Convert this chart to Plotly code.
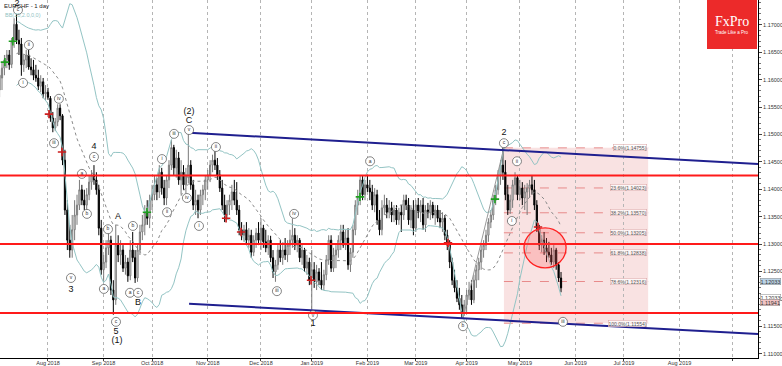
import pandas as pd
import plotly.graph_objects as go

# ---------------- data ----------------
start_date = "2018-07-04"   # first daily bar (business-day index 0)

opens = [
    1.1581, 1.1603, 1.1621, 1.1636, 1.1645, 1.1628, 1.1669, 1.1701, 1.1672, 1.1665,
    1.1627, 1.1636, 1.1645, 1.1623, 1.1618, 1.1608, 1.1603, 1.1588, 1.1596, 1.1574,
    1.1577, 1.1566, 1.1530, 1.1512, 1.1523, 1.1548, 1.1534, 1.1453, 1.1362, 1.1307,
    1.1289, 1.1326, 1.1353, 1.1371, 1.1399, 1.1380, 1.1371, 1.1390, 1.1413, 1.1426,
    1.1417, 1.1399, 1.1329, 1.1253, 1.1267, 1.1293, 1.1307, 1.1216, 1.1198, 1.1298,
    1.1280, 1.1289, 1.1256, 1.1267, 1.1242, 1.1289, 1.1275, 1.1238, 1.1289, 1.1322,
    1.1335, 1.1358, 1.1347, 1.1380, 1.1390, 1.1408, 1.1395, 1.1431, 1.1402, 1.1384,
    1.1417, 1.1444, 1.1476, 1.1439, 1.1457, 1.1417, 1.1431, 1.1408, 1.1421, 1.1444,
    1.1408, 1.1371, 1.1380, 1.1362, 1.1390, 1.1399, 1.1417, 1.1426, 1.1444, 1.1453,
    1.1444, 1.1426, 1.1402, 1.1371, 1.1353, 1.1371, 1.1380, 1.1395, 1.1380, 1.1362,
    1.1326, 1.1316, 1.1326, 1.1307, 1.1316, 1.1285, 1.1307, 1.1320, 1.1307, 1.1329,
    1.1304, 1.1293, 1.1307, 1.1275, 1.1249, 1.1262, 1.1289, 1.1275, 1.1289, 1.1280,
    1.1298, 1.1307, 1.1316, 1.1298, 1.1307, 1.1275, 1.1289, 1.1256, 1.1267, 1.1238,
    1.1253, 1.1231, 1.1249, 1.1234, 1.1225, 1.1244, 1.1271, 1.1307, 1.1256, 1.1280,
    1.1289, 1.1307, 1.1322, 1.1298, 1.1311, 1.1262, 1.1285, 1.1326, 1.1371, 1.1384,
    1.1417, 1.1390, 1.1408, 1.1402, 1.1395, 1.1371, 1.1390, 1.1344, 1.1326, 1.1366,
    1.1371, 1.1358, 1.1366, 1.1353, 1.1362, 1.1344, 1.1358, 1.1353, 1.1380, 1.1371,
    1.1344, 1.1362, 1.1329, 1.1371, 1.1358, 1.1371, 1.1335, 1.1362, 1.1357, 1.1371,
    1.1353, 1.1362, 1.1347, 1.1340, 1.1347, 1.1316, 1.1298, 1.1267, 1.1234, 1.1220,
    1.1201, 1.1189, 1.1176, 1.1189, 1.1207, 1.1216, 1.1198, 1.1234, 1.1253, 1.1267,
    1.1289, 1.1298, 1.1316, 1.1340, 1.1353, 1.1380, 1.1399, 1.1426, 1.1444, 1.1431,
    1.1390, 1.1362, 1.1380, 1.1408, 1.1421, 1.1390, 1.1402, 1.1384, 1.1395, 1.1402,
    1.1408, 1.1399, 1.1371, 1.1329, 1.1298, 1.1307, 1.1293, 1.1285, 1.1280, 1.1267,
    1.1289, 1.1262, 1.1238,
]
highs = [
    1.1618, 1.1632, 1.1645, 1.1654, 1.1654, 1.1676, 1.1712, 1.1722, 1.1691, 1.1676,
    1.1645, 1.1654, 1.1654, 1.1639, 1.1636, 1.1627, 1.1618, 1.1608, 1.1603, 1.1590,
    1.1585, 1.1570, 1.1541, 1.1530, 1.1555, 1.1555, 1.1537, 1.1472, 1.1380, 1.1335,
    1.1353, 1.1380, 1.1390, 1.1417, 1.1408, 1.1399, 1.1402, 1.1426, 1.1435, 1.1444,
    1.1431, 1.1408, 1.1344, 1.1280, 1.1307, 1.1322, 1.1315, 1.1234, 1.1335, 1.1316,
    1.1307, 1.1298, 1.1280, 1.1275, 1.1307, 1.1322, 1.1289, 1.1298, 1.1335, 1.1353,
    1.1371, 1.1380, 1.1390, 1.1408, 1.1426, 1.1421, 1.1444, 1.1439, 1.1417, 1.1426,
    1.1453, 1.1490, 1.1481, 1.1472, 1.1468, 1.1453, 1.1444, 1.1439, 1.1503, 1.1453,
    1.1417, 1.1399, 1.1390, 1.1399, 1.1408, 1.1426, 1.1435, 1.1453, 1.1463, 1.1472,
    1.1457, 1.1435, 1.1417, 1.1390, 1.1380, 1.1390, 1.1408, 1.1417, 1.1413, 1.1371,
    1.1340, 1.1335, 1.1340, 1.1329, 1.1326, 1.1316, 1.1329, 1.1340, 1.1347, 1.1335,
    1.1326, 1.1316, 1.1315, 1.1289, 1.1271, 1.1298, 1.1307, 1.1298, 1.1311, 1.1307,
    1.1326, 1.1347, 1.1329, 1.1316, 1.1311, 1.1298, 1.1293, 1.1280, 1.1275, 1.1289,
    1.1267, 1.1262, 1.1256, 1.1267, 1.1253, 1.1280, 1.1316, 1.1316, 1.1293, 1.1298,
    1.1316, 1.1335, 1.1335, 1.1326, 1.1329, 1.1293, 1.1335, 1.1380, 1.1399, 1.1426,
    1.1424, 1.1417, 1.1426, 1.1417, 1.1408, 1.1402, 1.1399, 1.1362, 1.1380, 1.1390,
    1.1384, 1.1380, 1.1377, 1.1371, 1.1371, 1.1366, 1.1371, 1.1390, 1.1390, 1.1384,
    1.1371, 1.1380, 1.1380, 1.1384, 1.1380, 1.1384, 1.1371, 1.1375, 1.1380, 1.1377,
    1.1371, 1.1371, 1.1362, 1.1358, 1.1353, 1.1326, 1.1307, 1.1275, 1.1253, 1.1234,
    1.1220, 1.1207, 1.1198, 1.1216, 1.1231, 1.1234, 1.1244, 1.1262, 1.1275, 1.1298,
    1.1307, 1.1326, 1.1347, 1.1362, 1.1390, 1.1408, 1.1435, 1.1453, 1.1476, 1.1453,
    1.1408, 1.1390, 1.1417, 1.1431, 1.1426, 1.1417, 1.1413, 1.1408, 1.1411, 1.1417,
    1.1426, 1.1417, 1.1380, 1.1335, 1.1316, 1.1322, 1.1311, 1.1304, 1.1293, 1.1298,
    1.1293, 1.1267, 1.1249,
]
lows = [
    1.1568, 1.1581, 1.1608, 1.1621, 1.1618, 1.1621, 1.1658, 1.1665, 1.1645, 1.1607,
    1.1614, 1.1621, 1.1618, 1.1608, 1.1599, 1.1596, 1.1581, 1.1577, 1.1566, 1.1563,
    1.1563, 1.1523, 1.1504, 1.1506, 1.1515, 1.1526, 1.1444, 1.1353, 1.1289, 1.1275,
    1.1275, 1.1307, 1.1335, 1.1362, 1.1371, 1.1362, 1.1362, 1.1380, 1.1399, 1.1408,
    1.1390, 1.1316, 1.1244, 1.1231, 1.1256, 1.1280, 1.1207, 1.1171, 1.1189, 1.1267,
    1.1262, 1.1249, 1.1244, 1.1231, 1.1234, 1.1267, 1.1229, 1.1231, 1.1280, 1.1307,
    1.1316, 1.1335, 1.1329, 1.1362, 1.1380, 1.1380, 1.1384, 1.1390, 1.1371, 1.1371,
    1.1402, 1.1435, 1.1426, 1.1421, 1.1408, 1.1390, 1.1399, 1.1390, 1.1411, 1.1399,
    1.1362, 1.1353, 1.1347, 1.1353, 1.1371, 1.1380, 1.1399, 1.1413, 1.1431, 1.1435,
    1.1417, 1.1395, 1.1362, 1.1340, 1.1344, 1.1353, 1.1362, 1.1371, 1.1353, 1.1316,
    1.1307, 1.1304, 1.1298, 1.1293, 1.1275, 1.1278, 1.1293, 1.1298, 1.1289, 1.1293,
    1.1285, 1.1280, 1.1267, 1.1238, 1.1231, 1.1253, 1.1267, 1.1262, 1.1271, 1.1267,
    1.1280, 1.1293, 1.1289, 1.1285, 1.1267, 1.1262, 1.1249, 1.1244, 1.1225, 1.1180,
    1.1220, 1.1216, 1.1225, 1.1216, 1.1216, 1.1234, 1.1262, 1.1249, 1.1249, 1.1256,
    1.1275, 1.1289, 1.1293, 1.1289, 1.1253, 1.1249, 1.1275, 1.1316, 1.1353, 1.1371,
    1.1380, 1.1380, 1.1395, 1.1380, 1.1362, 1.1358, 1.1335, 1.1316, 1.1316, 1.1353,
    1.1347, 1.1347, 1.1340, 1.1340, 1.1335, 1.1335, 1.1322, 1.1344, 1.1362, 1.1335,
    1.1329, 1.1316, 1.1322, 1.1347, 1.1340, 1.1326, 1.1322, 1.1347, 1.1344, 1.1347,
    1.1335, 1.1340, 1.1329, 1.1322, 1.1307, 1.1289, 1.1256, 1.1225, 1.1212, 1.1194,
    1.1180, 1.1165, 1.1169, 1.1176, 1.1198, 1.1189, 1.1192, 1.1220, 1.1234, 1.1253,
    1.1275, 1.1289, 1.1304, 1.1329, 1.1344, 1.1371, 1.1390, 1.1408, 1.1417, 1.1380,
    1.1353, 1.1355, 1.1366, 1.1390, 1.1380, 1.1380, 1.1371, 1.1362, 1.1353, 1.1384,
    1.1390, 1.1362, 1.1322, 1.1289, 1.1285, 1.1280, 1.1267, 1.1275, 1.1262, 1.1256,
    1.1253, 1.1231, 1.1212,
]
closes = [
    1.1608, 1.1621, 1.1636, 1.1645, 1.1627, 1.1669, 1.1701, 1.1672, 1.1665, 1.1627,
    1.1636, 1.1645, 1.1623, 1.1618, 1.1608, 1.1603, 1.1588, 1.1596, 1.1574, 1.1577,
    1.1568, 1.1530, 1.1512, 1.1523, 1.1548, 1.1534, 1.1453, 1.1362, 1.1307, 1.1289,
    1.1326, 1.1353, 1.1371, 1.1399, 1.1380, 1.1371, 1.1390, 1.1413, 1.1426, 1.1417,
    1.1399, 1.1329, 1.1253, 1.1267, 1.1293, 1.1307, 1.1216, 1.1198, 1.1298, 1.1280,
    1.1289, 1.1256, 1.1267, 1.1242, 1.1289, 1.1275, 1.1238, 1.1289, 1.1322, 1.1335,
    1.1358, 1.1347, 1.1380, 1.1390, 1.1408, 1.1395, 1.1431, 1.1402, 1.1384, 1.1417,
    1.1444, 1.1476, 1.1439, 1.1457, 1.1417, 1.1431, 1.1408, 1.1426, 1.1444, 1.1408,
    1.1371, 1.1380, 1.1362, 1.1390, 1.1399, 1.1417, 1.1426, 1.1444, 1.1453, 1.1444,
    1.1426, 1.1402, 1.1371, 1.1353, 1.1371, 1.1380, 1.1395, 1.1380, 1.1362, 1.1326,
    1.1316, 1.1326, 1.1307, 1.1316, 1.1285, 1.1307, 1.1320, 1.1307, 1.1329, 1.1304,
    1.1293, 1.1307, 1.1275, 1.1249, 1.1262, 1.1289, 1.1275, 1.1289, 1.1280, 1.1298,
    1.1307, 1.1316, 1.1298, 1.1307, 1.1275, 1.1289, 1.1256, 1.1267, 1.1234, 1.1253,
    1.1231, 1.1249, 1.1234, 1.1225, 1.1244, 1.1271, 1.1307, 1.1256, 1.1280, 1.1289,
    1.1307, 1.1322, 1.1298, 1.1311, 1.1262, 1.1285, 1.1326, 1.1371, 1.1384, 1.1417,
    1.1390, 1.1408, 1.1402, 1.1395, 1.1371, 1.1390, 1.1344, 1.1326, 1.1366, 1.1371,
    1.1358, 1.1366, 1.1353, 1.1362, 1.1344, 1.1358, 1.1353, 1.1380, 1.1371, 1.1344,
    1.1362, 1.1329, 1.1371, 1.1358, 1.1371, 1.1335, 1.1362, 1.1357, 1.1371, 1.1353,
    1.1362, 1.1347, 1.1340, 1.1347, 1.1316, 1.1298, 1.1267, 1.1234, 1.1220, 1.1201,
    1.1189, 1.1176, 1.1189, 1.1207, 1.1216, 1.1198, 1.1234, 1.1253, 1.1267, 1.1289,
    1.1298, 1.1316, 1.1340, 1.1353, 1.1380, 1.1399, 1.1426, 1.1444, 1.1431, 1.1390,
    1.1362, 1.1380, 1.1408, 1.1421, 1.1390, 1.1402, 1.1384, 1.1395, 1.1402, 1.1408,
    1.1399, 1.1371, 1.1329, 1.1298, 1.1307, 1.1293, 1.1285, 1.1280, 1.1267, 1.1289,
    1.1262, 1.1238, 1.1220,
]

month_labels = ["Aug 2018", "Sep 2018", "Oct 2018", "Nov 2018", "Dec 2018", "Jan 2019",
                "Feb 2019", "Mar 2019", "Apr 2019", "May 2019", "Jun 2019", "Jul 2019",
                "Aug 2019", ""]
month_starts = ["2018-08-01", "2018-09-01", "2018-10-01", "2018-11-01", "2018-12-01",
                "2019-01-01", "2019-02-01", "2019-03-01", "2019-04-01", "2019-05-01",
                "2019-06-01", "2019-07-01", "2019-08-01", "2019-09-01"]

y_ticks = [1.110, 1.115, 1.120, 1.125, 1.130, 1.135, 1.140, 1.145, 1.150, 1.155,
           1.160, 1.165, 1.170]

sr_levels = [1.1425, 1.1300, 1.1174]

channel_x = [78.3, 313.4]
channel_upper = [1.1503, 1.1446]
channel_lower = [1.1191, 1.1136]

zigzag_x = [191.5, 208.4]
zigzag_y = [1.1165, 1.1476]

fib_pct = ["0.0%", "23.6%", "38.2%", "50.0%", "61.8%", "78.6%", "100.0%"]
fib_prices = [1.14755, 1.14023, 1.13570, 1.13205, 1.12838, 1.12316, 1.11554]
fib_x = [208.4, 268.0]

circle_center = [225.4, 1.1293]

circ_text = ["c", "ii", "i", "iv", "iii", "c", "a", "b", "v", "b", "a", "c", "b", "a", "c",
             "i", "ii", "iii", "v", "iv", "i", "ii", "iii", "iv", "v", "a", "b", "c", "ii", "i", "iii"]
circ_x = [7.6, 12.1, 9.7, 24.5, 22.5, 39.0, 34.0, 36.1, 29.5, 44.8, 43.1, 48.1, 55.1, 53.9, 57.2,
          67.1, 69.2, 72.1, 78.3, 77.4, 82.4, 89.4, 114.6, 121.7, 129.5, 153.1, 191.5, 208.4,
          213.8, 211.7, 232.8]
circ_y = [1.1727, 1.1663, 1.1594, 1.1565, 1.1484, 1.1459, 1.1428, 1.1355, 1.1238, 1.1327,
          1.1218, 1.1158, 1.1333, 1.1211, 1.1211, 1.1455, 1.1358, 1.1501, 1.1508, 1.1384,
          1.1333, 1.1477, 1.1214, 1.1355, 1.1170, 1.1451, 1.1150, 1.1484, 1.1451, 1.1342, 1.1158]

big_text = ["2", "4", "3", "5", "(1)", "A", "B", "(2)", "C", "1", "2"]
big_x = [7.2, 39.0, 29.5, 48.1, 48.5, 48.9, 57.2, 78.3, 78.3, 129.5, 208.4]
big_y = [1.1738, 1.1477, 1.1216, 1.1139, 1.1123, 1.1349, 1.1192, 1.1541, 1.1525, 1.1154, 1.1503]

green_x = [2.2, 5.5, 60.9, 148.9, 204.7]
green_y = [1.1632, 1.1670, 1.1358, 1.1386, 1.1382]
red_x = [20.4, 25.8, 93.6, 99.8, 128.7, 185.3, 222.5]
red_y = [1.1537, 1.1468, 1.1347, 1.1322, 1.1234, 1.1302, 1.1331]

axis_tag_text = ["1.12033", "1.12033", "1.11941"]
axis_tag_price = [1.1231, 1.12033, 1.1194]
axis_tag_bg = ["#bcd4e6", "#ffffff", "#f2c4c4"]

# ---------------- derived ----------------
bars = list(range(len(closes)))
bdays = pd.bdate_range(start_date, periods=340)
tick_pos = [int(bdays.searchsorted(pd.Timestamp(m))) for m in month_starts]

cs = pd.Series(closes)
bb_mid = cs.rolling(20, min_periods=8).mean()
bb_sd = cs.rolling(20, min_periods=8).std(ddof=0)
bb_up = bb_mid + 2 * bb_sd
bb_lo = bb_mid - 2 * bb_sd

FONT = "Liberation Sans, Arial, sans-serif"
X_RANGE = [0.17, 313.4]
Y_RANGE = [1.10920, 1.17453]

fig = go.Figure()

# Fibonacci box (background)
fig.add_shape(type="rect", x0=fib_x[0], x1=fib_x[1], y0=fib_prices[-1], y1=fib_prices[0],
              fillcolor="rgba(232,150,150,0.28)", line=dict(width=0), layer="below")
for pct, pr in zip(fib_pct, fib_prices):
    fig.add_shape(type="line", x0=fib_x[0], x1=fib_x[1], y0=pr, y1=pr,
                  line=dict(color="rgba(225,110,110,0.75)", width=1, dash="dash"), layer="below")
    fig.add_annotation(x=fib_x[1] - 0.6, y=pr, text=f"{pct}({pr:.5f})", showarrow=False,
                       xanchor="right", yanchor="middle",
                       font=dict(size=5, color="#555", family=FONT),
                       bgcolor="rgba(255,255,255,0.7)", bordercolor="#d9a0a0",
                       borderwidth=0.5, borderpad=0)

# Bollinger bands
fig.add_trace(go.Scatter(x=bars, y=bb_up, mode="lines",
                         line=dict(color="#93c4c4", width=1), hoverinfo="skip"))
fig.add_trace(go.Scatter(x=bars, y=bb_lo, mode="lines",
                         line=dict(color="#93c4c4", width=1), hoverinfo="skip"))
fig.add_trace(go.Scatter(x=bars, y=bb_mid, mode="lines",
                         line=dict(color="#8a8a8a", width=1, dash="dot"), hoverinfo="skip"))

# zigzag line b -> 2
fig.add_trace(go.Scatter(x=zigzag_x, y=zigzag_y, mode="lines",
                         line=dict(color="#9a9a9a", width=1), hoverinfo="skip"))

# candles
fig.add_trace(go.Candlestick(
    x=bars, open=opens, high=highs, low=lows, close=closes,
    increasing=dict(fillcolor="#ffffff", line=dict(color="#7a7a7a", width=1)),
    decreasing=dict(fillcolor="#000000", line=dict(color="#000000", width=1)),
    whiskerwidth=0, hoverinfo="skip"))

# horizontal support / resistance
for lv in sr_levels:
    fig.add_shape(type="line", xref="paper", x0=0, x1=1, y0=lv, y1=lv,
                  line=dict(color="#ff1a1a", width=2))

# channel
fig.add_trace(go.Scatter(x=channel_x, y=channel_upper, mode="lines",
                         line=dict(color="#1f1f8f", width=2), hoverinfo="skip"))
fig.add_trace(go.Scatter(x=channel_x, y=channel_lower, mode="lines",
                         line=dict(color="#1f1f8f", width=2), hoverinfo="skip"))

# red circle
fig.add_shape(type="circle", x0=circle_center[0] - 8.7, x1=circle_center[0] + 8.7,
              y0=circle_center[1] - 0.00365, y1=circle_center[1] + 0.00365,
              fillcolor="rgba(255,90,90,0.25)", line=dict(color="#ff2020", width=1.3))

# signal crosses
fig.add_trace(go.Scatter(x=green_x, y=green_y, mode="markers",
                         marker=dict(symbol="cross-thin", size=6,
                                     line=dict(color="#1e9e1e", width=1.6)), hoverinfo="skip"))
fig.add_trace(go.Scatter(x=red_x, y=red_y, mode="markers",
                         marker=dict(symbol="cross-thin", size=6,
                                     line=dict(color="#cc1e1e", width=1.6)), hoverinfo="skip"))

# circled wave labels
fig.add_trace(go.Scatter(x=circ_x, y=circ_y, mode="markers+text", text=circ_text,
                         textposition="middle center",
                         textfont=dict(size=5, color="#333", family=FONT),
                         marker=dict(symbol="circle", size=9, color="white",
                                     line=dict(color="#666", width=0.8)),
                         hoverinfo="skip", cliponaxis=False))
# large wave labels
fig.add_trace(go.Scatter(x=big_x, y=big_y, mode="text", text=big_text,
                         textposition="middle center",
                         textfont=dict(size=9, color="#111", family=FONT),
                         hoverinfo="skip", cliponaxis=False))

# title texts
fig.add_annotation(xref="paper", yref="paper", x=0.002, y=0.998, xanchor="left", yanchor="top",
                   text="EURCHF - 1 day", showarrow=False,
                   font=dict(size=6, color="#222", family=FONT))
fig.add_annotation(xref="paper", yref="paper", x=0.004, y=0.972, xanchor="left", yanchor="top",
                   text="BB(20,2.0,0,0)", showarrow=False,
                   font=dict(size=5.5, color="#8fc3c3", family=FONT))

# FxPro logo
fig.add_shape(type="rect", xref="paper", yref="paper", x0=707 / 758, x1=757 / 758,
              y0=1 - 49 / 358, y1=1, fillcolor="#ec2a2a", line=dict(width=0))
fig.add_annotation(xref="paper", yref="paper", x=732 / 758, y=1 - 22 / 358, text="FxPro",
                   showarrow=False, xanchor="center", yanchor="middle",
                   font=dict(size=14, color="white", family="Liberation Serif, serif"))
fig.add_annotation(xref="paper", yref="paper", x=732 / 758, y=1 - 32 / 358,
                   text="Trade Like a Pro", showarrow=False, xanchor="center", yanchor="middle",
                   font=dict(size=4.5, color="white", family=FONT))

# price tags on the axis
for t, p, bg in zip(axis_tag_text, axis_tag_price, axis_tag_bg):
    fig.add_annotation(xref="paper", x=1.002, y=p, text=t, showarrow=False,
                       xanchor="left", yanchor="middle",
                       font=dict(size=5.5, color="#333", family=FONT),
                       bgcolor=bg, bordercolor="#888", borderwidth=0.5, borderpad=0)

fig.update_layout(
    width=782, height=366, autosize=False,
    margin=dict(l=0, r=24, t=0, b=8),
    paper_bgcolor="white", plot_bgcolor="white",
    showlegend=False,
    xaxis=dict(range=X_RANGE, tickmode="array", tickvals=tick_pos, ticktext=month_labels,
               showgrid=True, gridcolor="#b5b5b5", griddash="dot", gridwidth=1,
               ticks="outside", ticklen=2, tickcolor="#444", ticklabelstandoff=-3,
               tickfont=dict(size=5.5, color="#333", family=FONT),
               showline=True, linecolor="#000", linewidth=1, mirror=True,
               rangeslider=dict(visible=False), zeroline=False, automargin=False),
    yaxis=dict(range=Y_RANGE, side="right", tickmode="array", tickvals=y_ticks,
               tickformat=".5f", showgrid=False, zeroline=False,
               ticks="outside", ticklen=3, tickcolor="#444",
               minor=dict(ticks="outside", ticklen=2, dtick=0.001, tickcolor="#777"),
               tickfont=dict(size=5.5, color="#333", family=FONT),
               showline=True, linecolor="#000", linewidth=1, mirror=True,
               automargin=False),
)

fig.write_html(
    "out.html",
    config={"displayModeBar": False},
    post_script="document.body.style.margin='0px';document.body.style.padding='0px';"
                "document.body.style.overflow='hidden';",
)
